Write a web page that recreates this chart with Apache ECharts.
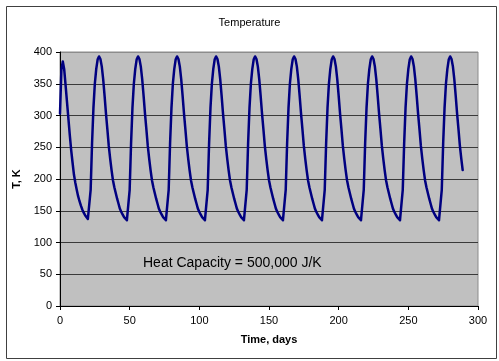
<!DOCTYPE html>
<html>
<head>
<meta charset="utf-8">
<script src="https://cdn.jsdelivr.net/npm/echarts@6/dist/echarts.min.js"></script>
<style>
  html, body { margin: 0; padding: 0; background: #fff; }
  #chart { width: 499px; height: 361px; }
</style>
</head>
<body>
<div id="chart"></div>
<script>
// ---- Data ----
const chartTitle = 'Temperature';
const xAxisName = 'Time, days';
const yAxisName = 'T, K';
const annotationText = 'Heat Capacity = 500,000 J/K';
const xTicks = [0, 50, 100, 150, 200, 250, 300];
const yTicks = [0, 50, 100, 150, 200, 250, 300, 350, 400];
const firstDay = 0;      // day of first sample
const dayStep = 1;       // one sample per day

// Temperature in K, one value per day (day 0 .. day 289), grouped by cycle
const temperatureK = [
  // days 0-21
  303, 372, 385, 373, 348, 322, 296, 270, 246, 226, 207, 194, 183, 173, 165, 158, 152, 147, 143, 140, 137, 135,
  // days 22-49 (peak day 28)
  183, 256, 312, 350, 373, 388, 393, 389, 377, 357, 331, 303, 278, 252, 232, 214, 198, 187, 178, 169, 161, 153, 148, 144, 140, 137, 135, 134,
  // days 50-77 (peak day 56)
  183, 256, 312, 350, 373, 388, 393, 389, 377, 357, 331, 303, 278, 252, 232, 214, 198, 187, 178, 169, 161, 153, 148, 144, 140, 137, 135, 134,
  // days 78-105 (peak day 84)
  183, 256, 312, 350, 373, 388, 393, 389, 377, 357, 331, 303, 278, 252, 232, 214, 198, 187, 178, 169, 161, 153, 148, 144, 140, 137, 135, 134,
  // days 106-133 (peak day 112)
  183, 256, 312, 350, 373, 388, 393, 389, 377, 357, 331, 303, 278, 252, 232, 214, 198, 187, 178, 169, 161, 153, 148, 144, 140, 137, 135, 134,
  // days 134-161 (peak day 140)
  183, 256, 312, 350, 373, 388, 393, 389, 377, 357, 331, 303, 278, 252, 232, 214, 198, 187, 178, 169, 161, 153, 148, 144, 140, 137, 135, 134,
  // days 162-189 (peak day 168)
  183, 256, 312, 350, 373, 388, 393, 389, 377, 357, 331, 303, 278, 252, 232, 214, 198, 187, 178, 169, 161, 153, 148, 144, 140, 137, 135, 134,
  // days 190-217 (peak day 196)
  183, 256, 312, 350, 373, 388, 393, 389, 377, 357, 331, 303, 278, 252, 232, 214, 198, 187, 178, 169, 161, 153, 148, 144, 140, 137, 135, 134,
  // days 218-245 (peak day 224)
  183, 256, 312, 350, 373, 388, 393, 389, 377, 357, 331, 303, 278, 252, 232, 214, 198, 187, 178, 169, 161, 153, 148, 144, 140, 137, 135, 134,
  // days 246-273 (peak day 252)
  183, 256, 312, 350, 373, 388, 393, 389, 377, 357, 331, 303, 278, 252, 232, 214, 198, 187, 178, 169, 161, 153, 148, 144, 140, 137, 135, 134,
  // days 274-289 (peak day 280)
  183, 256, 312, 350, 373, 388, 393, 389, 377, 357, 331, 303, 278, 252, 232, 214
];

// ---- Build series data ----
const seriesData = temperatureK.map((t, i) => [firstDay + i * dayStep, t]);

const FONT = '"Liberation Sans", Arial, sans-serif';
const chart = echarts.init(document.getElementById('chart'), null, { renderer: 'canvas' });

const yGridColors = yTicks.map(v => (v === yTicks[yTicks.length - 1] ? '#8c8c8c' : '#3a3a3a'));

chart.setOption({
  animation: false,
  backgroundColor: '#ffffff',
  title: {
    text: chartTitle,
    left: 'center',
    top: 12,
    textStyle: { fontFamily: FONT, fontSize: 11, fontWeight: 'normal', color: '#000' }
  },
  grid: {
    left: 60, right: 21, top: 52, bottom: 55,
    show: true,
    backgroundColor: '#c0c0c0',
    borderColor: '#8c8c8c',
    borderWidth: 1
  },
  xAxis: {
    type: 'value',
    min: xTicks[0], max: xTicks[xTicks.length - 1], interval: 50,
    name: xAxisName,
    nameLocation: 'middle',
    nameGap: 28,
    nameTextStyle: { fontFamily: FONT, fontSize: 11, fontWeight: 'bold', color: '#000' },
    axisLine: { show: true, onZero: false, lineStyle: { color: '#000', width: 1 } },
    axisTick: { show: true, inside: false, length: 4, lineStyle: { color: '#000' } },
    axisLabel: { fontFamily: FONT, fontSize: 11, color: '#000', margin: 9 },
    splitLine: { show: false }
  },
  yAxis: {
    type: 'value',
    min: yTicks[0], max: yTicks[yTicks.length - 1], interval: 50,
    name: yAxisName,
    nameLocation: 'middle',
    nameGap: 32,
    nameRotate: 90,
    nameTextStyle: { fontFamily: FONT, fontSize: 11, fontWeight: 'bold', color: '#000' },
    axisLine: { show: true, lineStyle: { color: '#000', width: 1 } },
    axisTick: { show: true, inside: false, length: 4, lineStyle: { color: '#000' } },
    axisLabel: { fontFamily: FONT, fontSize: 11, color: '#000', margin: 8 },
    splitLine: { show: true, lineStyle: { color: yGridColors, width: 1 } }
  },
  series: [{
    type: 'line',
    data: seriesData,
    showSymbol: false,
    smooth: false,
    lineStyle: { color: '#000080', width: 2.5, join: 'round', cap: 'round' },
    z: 5
  }],
  graphic: [
    {
      type: 'rect',
      left: 4, top: 4,
      shape: { width: 490, height: 352 },
      style: { fill: 'none', stroke: '#404040', lineWidth: 1 },
      silent: true, z: 100
    },
    {
      type: 'text',
      left: 143, top: 256,
      style: { text: annotationText, font: '14px "Liberation Sans", Arial, sans-serif', fill: '#000' },
      z: 100
    }
  ]
});
</script>
</body>
</html>
